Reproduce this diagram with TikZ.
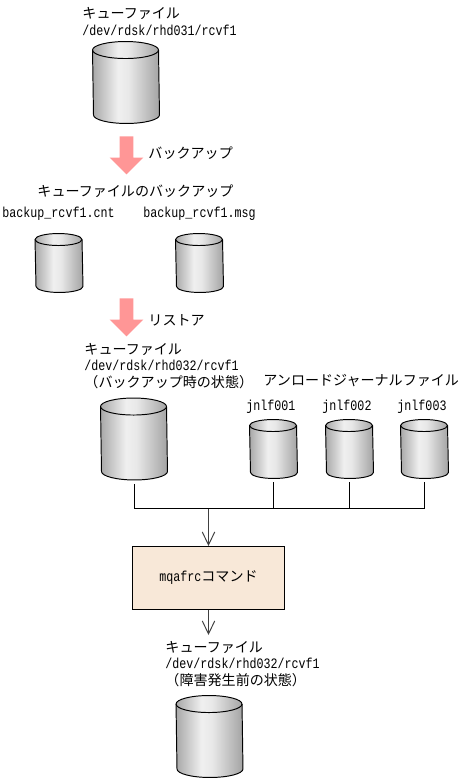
\documentclass[tikz,border=0pt]{standalone}
\usepackage{fontspec}
\setmainfont{Noto Sans CJK JP}
\newfontfamily\monofont[FakeStretch=0.81]{Liberation Mono}
\usetikzlibrary{arrows.meta, shapes.arrows}
\pgfdeclarehorizontalshading{drumgray}{100bp}{color(0bp)=(black!34); color(25bp)=(black!34); color(44bp)=(black!6); color(52bp)=(black!9); color(75bp)=(black!36); color(100bp)=(black!36)}
\definecolor{restorepink}{HTML}{FF9696}
\definecolor{cmdfill}{HTML}{F8E8D8}
\newcommand{\mono}[1]{{\fontsize{8.2pt}{9.6pt}\monofont #1}}

\begin{document}
\begin{tikzpicture}[x=0.02cm, y=-0.02cm, line width=0.55pt, font=\fontsize{8pt}{9.6pt}\selectfont,
  drum/.style={inner sep=0pt},
  bigdrum/.style={drum, minimum width=1.32cm, minimum height=1.62cm},
  smalldrum/.style={drum, minimum width=0.94cm, minimum height=1.16cm},
  pinkarrow/.style={shape=single arrow, shape border rotate=270, fill=restorepink, inner sep=0.13cm, minimum height=0.76cm, single arrow head extend=0.2cm},
  txt/.style={anchor=west, inner sep=0pt, align=left},
  flow/.style={-{Straight Barb[length=0.26cm, width=0.25cm]}, black!75}]
\useasboundingbox (0,0) rectangle (465,783);

\node[txt] (src) at (82,21.5) {キューファイル\\\mono{/dev/rdsk/rhd031/rcvf1}};
\node[bigdrum] (qsrc) at (126,82.5) {};
\node[pinkarrow] (arrbak) at (126.5,152) {};
\node[txt] (lblbak) at (148,153) {バックアップ};

\node[txt] (bak) at (37,191) {キューファイルのバックアップ};
\node[txt] (bakcnt) at (2,214) {\mono{backup\_rcvf1.cnt}};
\node[txt] (bakmsg) at (143,214) {\mono{backup\_rcvf1.msg}};
\node[smalldrum] (qcnt) at (59,263) {};
\node[smalldrum] (qmsg) at (199.5,263) {};
\node[pinkarrow] (arrres) at (126.5,314) {};
\node[txt] (lblres) at (148,320) {リストア};

\node[txt] (rst) at (84,366) {キューファイル\\\mono{/dev/rdsk/rhd032/rcvf1}\\（バックアップ時の状態）};
\node[txt] (unl) at (263,381) {アンロードジャーナルファイル};
\node[bigdrum] (qrst) at (134,439) {};
\node[txt] (jn1l) at (246,407) {\mono{jnlf001}};
\node[txt] (jn2l) at (322,407) {\mono{jnlf002}};
\node[txt] (jn3l) at (397,407) {\mono{jnlf003}};
\node[smalldrum] (jn1) at (273.5,449) {};
\node[smalldrum] (jn2) at (349.5,449) {};
\node[smalldrum] (jn3) at (424.5,449) {};

\node[draw, fill=cmdfill, minimum width=3.04cm, minimum height=1.26cm, inner sep=0pt] (cmd) at (208.5,578) {\mono{mqafrc}コマンド};

\node[txt] (res) at (165,664) {キューファイル\\\mono{/dev/rdsk/rhd032/rcvf1}\\（障害発生前の状態）};
\node[bigdrum] (qres) at (209.5,736.5) {};

\foreach \d/\rx/\ry in {qsrc/0.66cm/0.17cm, qrst/0.66cm/0.17cm, qres/0.66cm/0.17cm, qcnt/0.47cm/0.12cm, qmsg/0.47cm/0.12cm, jn1/0.47cm/0.12cm, jn2/0.47cm/0.12cm, jn3/0.47cm/0.12cm} {
  \draw[shading=drumgray] ([yshift=-\ry]\d.north west) arc[start angle=180, end angle=0, x radius=\rx, y radius=\ry]
    -- ([yshift=\ry]\d.south east) arc[start angle=0, end angle=-180, x radius=\rx, y radius=\ry] -- cycle;
  \draw ([yshift=-\ry]\d.north west) arc[start angle=180, end angle=360, x radius=\rx, y radius=\ry];
}

\coordinate (bus) at (208.5,508.5);
\draw[shorten <=0.08cm] (qrst.south) |- (bus);
\draw[shorten <=0.08cm] (jn3.south) |- (bus);
\draw[shorten <=0.08cm] (jn1.south) -- (jn1.south |- bus);
\draw[shorten <=0.08cm] (jn2.south) -- (jn2.south |- bus);
\draw[flow] (bus) -- (cmd.north);
\coordinate (out) at (208.5,635);
\draw[flow] (cmd.south) -- (out);
\end{tikzpicture}
\end{document}
